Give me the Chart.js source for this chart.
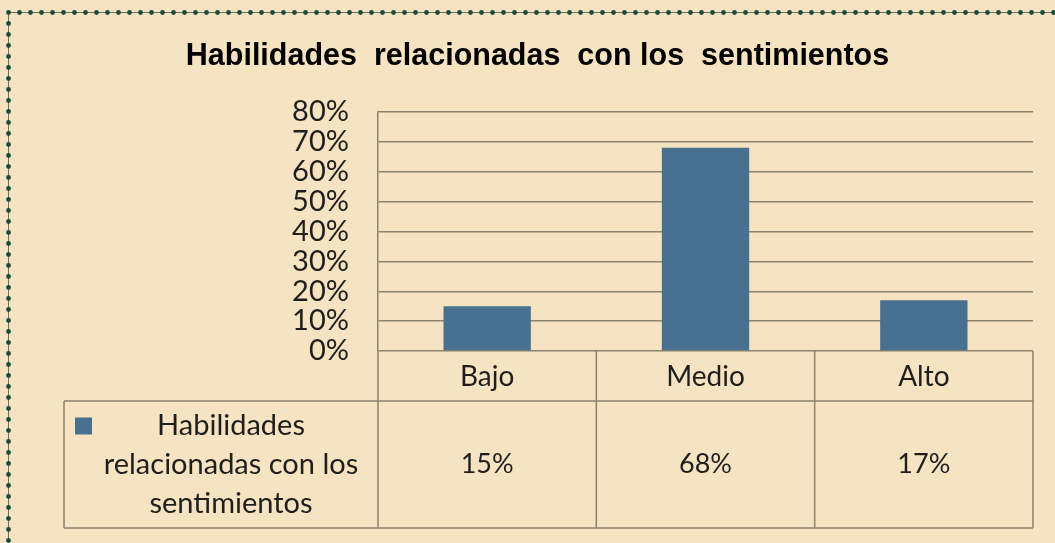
<!DOCTYPE html>
<html><head><meta charset="utf-8">
<script src="https://cdn.jsdelivr.net/npm/chart.js@4"></script>
<style>html,body{margin:0;padding:0;background:#F5E3C1;overflow:hidden;}</style>
</head><body>
<canvas id="c" width="1055" height="543" style="display:block;width:1055px;height:543px"></canvas>
<script>
const chartTitle = 'Habilidades  relacionadas  con los  sentimientos';
const categories = ['Bajo', 'Medio', 'Alto'];
const seriesName = 'Habilidades relacionadas con los sentimientos';
const legendLines = ['Habilidades', 'relacionadas con los', 'sentimientos'];
const values = [0.15, 0.68, 0.17];
const valueLabels = ['15%', '68%', '17%'];
const yMin = 0, yMax = 0.8, yStep = 0.1;

const BG = '#F5E3C1';
const LINE = '#8C836F';
const BAR = '#4A7090';
const TXT = '#1e1e1e';
const BODY_FONT = 'Lato';

const bgPlugin = {
  id: 'bg',
  beforeDraw(chart) {
    const ctx = chart.ctx;
    ctx.save();
    ctx.fillStyle = BG;
    ctx.fillRect(0, 0, chart.width, chart.height);
    ctx.restore();
  },
  afterDraw(chart) {
    const ctx = chart.ctx;
    ctx.save();
    // title
    ctx.fillStyle = '#000';
    ctx.font = 'bold 30.5px "Liberation Sans"';
    ctx.textAlign = 'center';
    ctx.textBaseline = 'middle';
    ctx.fillText(chartTitle, chart.width / 2 + 10, 57);
    // dotted frame (top and left)
    ctx.strokeStyle = '#6f6f60';
    ctx.lineWidth = 1;
    ctx.beginPath();
    ctx.moveTo(8.5, 12.5); ctx.lineTo(chart.width, 12.5);
    ctx.moveTo(8.5, 12.5); ctx.lineTo(8.5, chart.height);
    ctx.stroke();
    ctx.fillStyle = '#1C4B38';
    for (let x = 8.5; x < chart.width + 5; x += 11) {
      ctx.beginPath(); ctx.arc(x, 12.5, 2.4, 0, Math.PI * 2); ctx.fill();
    }
    for (let y = 23.5; y < chart.height + 5; y += 11) {
      ctx.beginPath(); ctx.arc(8.5, y, 2.4, 0, Math.PI * 2); ctx.fill();
    }
    ctx.restore();
  }
};

const tablePlugin = {
  id: 'dataTable',
  afterDraw(chart) {
    const ctx = chart.ctx;
    const xs = chart.scales.x;
    const ca = chart.chartArea;
    const n = categories.length;
    const half = (xs.getPixelForValue(1) - xs.getPixelForValue(0)) / 2;
    const y0 = ca.bottom;
    const y2 = xs.bottom;
    const y1 = y0 + (y2 - y0) * 50 / 177;
    const left = 64;
    ctx.save();
    ctx.strokeStyle = LINE;
    ctx.lineWidth = 1.5;
    ctx.beginPath();
    ctx.moveTo(left, y1); ctx.lineTo(ca.right, y1);
    ctx.moveTo(left, y2); ctx.lineTo(ca.right, y2);
    ctx.moveTo(left, y1); ctx.lineTo(left, y2);
    for (let i = 0; i < n; i++) {
      const x = xs.getPixelForValue(i) - half;
      ctx.moveTo(x, y0); ctx.lineTo(x, y2);
    }
    const xr = xs.getPixelForValue(n - 1) + half;
    ctx.moveTo(xr, y0); ctx.lineTo(xr, y2);
    ctx.stroke();

    ctx.fillStyle = TXT;
    ctx.textAlign = 'center';
    ctx.textBaseline = 'middle';
    for (let i = 0; i < n; i++) {
      const cx = xs.getPixelForValue(i);
      ctx.font = '28px ' + BODY_FONT;
      ctx.fillText(categories[i], cx, (y0 + y1) / 2 + 1);
      ctx.font = '27px ' + BODY_FONT;
      ctx.fillText(valueLabels[i], cx, (y1 + y2) / 2);
    }
    const mid = (y1 + y2) / 2;
    const lcx = (left + ca.left) / 2 + 10;
    const lh = 39;
    ctx.font = '29px ' + BODY_FONT;
    legendLines.forEach((t, k) => {
      ctx.fillText(t, lcx, mid + (k - 1) * lh);
    });
    ctx.fillStyle = BAR;
    ctx.fillRect(left + 11, mid - lh - 8, 17, 17);
    ctx.restore();
  }
};

new Chart(document.getElementById('c'), {
  type: 'bar',
  data: {
    labels: categories,
    datasets: [{
      label: seriesName,
      data: values,
      backgroundColor: BAR,
      barPercentage: 0.4,
      categoryPercentage: 1.0
    }]
  },
  options: {
    responsive: false,
    animation: false,
    layout: { padding: { left: 0, right: 22, top: 112, bottom: 15 } },
    plugins: {
      legend: { display: false },
      tooltip: { enabled: false },
      title: { display: false }
    },
    scales: {
      x: {
        grid: { display: false },
        border: { display: false },
        ticks: { display: false },
        afterFit(s) { s.height = 177; }
      },
      y: {
        min: yMin, max: yMax,
        ticks: {
          stepSize: yStep,
          autoSkip: false,
          padding: 29,
          color: TXT,
          font: { family: BODY_FONT, size: 29, lineHeight: 1.0 },
          callback: v => Math.round(v * 100) + '%'
        },
        grid: { color: LINE, lineWidth: 1.5, drawTicks: false },
        border: { display: true, color: LINE, width: 1.5 },
        afterFit(s) { s.width = 378; }
      }
    }
  },
  plugins: [bgPlugin, tablePlugin]
});
</script>
</body></html>
